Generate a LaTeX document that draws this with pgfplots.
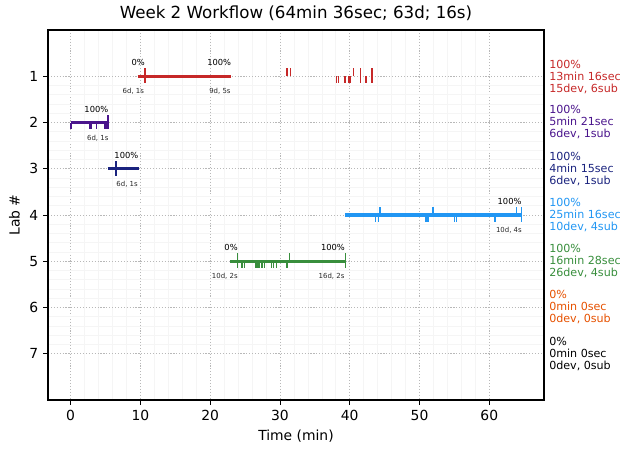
\documentclass[border=0pt]{standalone}
\usepackage{pgfplots}
\pgfplotsset{compat=1.18}
\usepackage{fontspec}
\setmainfont{DejaVu Sans}
\definecolor{labA}{HTML}{C62828}
\definecolor{labB}{HTML}{4A148C}
\definecolor{labC}{HTML}{1A237E}
\definecolor{labD}{HTML}{2196F3}
\definecolor{labE}{HTML}{388E3C}
\definecolor{labF}{HTML}{E65100}
\definecolor{labG}{HTML}{000000}
\begin{document}
\begin{tikzpicture}[x=1pt,y=1pt]
\useasboundingbox (0,0) rectangle (453.6,326.16);
\begin{axis}[
  at={(34.56pt,38.16pt)}, anchor=south west,
  scale only axis, width=357.1pt, height=266.4pt,
  xmin=-3.23, xmax=67.83, ymin=0, ymax=8, y dir=reverse,
  xtick={0,10,...,60}, ytick={1,...,7},
  minor x tick num=4, minor y tick num=4,
  grid=both,
  major grid style={dash pattern=on 0.8pt off 1.3pt, black!28, line width=0.6pt},
  minor grid style={black!4, line width=0.4pt},
  tick align=outside, major tick length=3.5pt, minor tick length=0pt,
  tick style={black, line width=0.6pt},
  axis line style={line width=0.8pt},
  xtick pos=bottom, ytick pos=left,
  title={Week 2 Workflow (64min 36sec; 63d; 16s)},
  title style={font=\fontsize{12}{14}\selectfont, yshift=-3pt},
  xlabel={Time (min)}, ylabel={Lab \#},
  label style={font=\fontsize{10}{12}\selectfont},
  ticklabel style={font=\fontsize{10}{12}\selectfont},
  /pgf/number format/assume math mode=true,
  clip=false,
]
% --- duration bars ---
\addplot[labA, line width=2.2pt] coordinates {(9.6,1) (23.0,1)};
\addplot[labB, line width=2.2pt] coordinates {(0.0,2) (5.4,2)};
\addplot[labC, line width=2.2pt] coordinates {(5.3,3) (9.8,3)};
\addplot[labD, line width=2.2pt] coordinates {(39.3,4) (64.6,4)};
\addplot[labE, line width=2.2pt] coordinates {(22.9,5) (39.3,5)};
% --- event ticks (v<0 above, v>0 below) ---
\addplot[labA, line width=1.1pt, quiver={u=0,v=\thisrow{v}}, mark=none] table {
x y v
10.7 1 -0.17
10.7 1 0.15
31.05 1 -0.17
31.5 1 -0.17
38.1 1 0.15
38.4 1 0.15
39.3 1 0.15
39.86 1 0.15
40.14 1 0.15
40.57 1 -0.17
41.57 1 -0.17
41.57 1 0.15
42.3 1 0.15
43.2 1 -0.17
43.2 1 0.15
};
\addplot[labB, line width=1.1pt, quiver={u=0,v=\thisrow{v}}, mark=none] table {
x y v
0.05 2 0.15
2.76 2 0.15
3.0 2 0.15
3.7 2 0.15
4.95 2 0.15
5.15 2 0.15
5.4 2 -0.17
5.4 2 0.15
};
\addplot[labC, line width=1.1pt, quiver={u=0,v=\thisrow{v}}, mark=none] table {
x y v
6.5 3 -0.17
6.5 3 0.15
};
\addplot[labD, line width=1.1pt, quiver={u=0,v=\thisrow{v}}, mark=none] table {
x y v
43.7 4 0.15
44.1 4 0.15
44.3 4 -0.17
50.95 4 0.15
51.2 4 0.15
51.9 4 -0.17
55.0 4 0.15
55.3 4 0.15
60.8 4 0.15
63.9 4 -0.17
64.6 4 -0.17
64.6 4 0.15
};
\addplot[labE, line width=1.1pt, quiver={u=0,v=\thisrow{v}}, mark=none] table {
x y v
23.9 5 -0.17
23.9 5 0.15
24.6 5 0.15
24.95 5 0.15
26.6 5 0.15
26.8 5 0.15
27.0 5 0.15
27.4 5 0.15
27.8 5 0.15
28.8 5 0.15
29.1 5 0.15
29.5 5 0.15
31.0 5 0.15
31.4 5 -0.17
39.4 5 -0.17
39.4 5 0.15
};
% --- annotations ---
\tikzset{pct/.style={font=\fontsize{6}{7}\selectfont, black, inner sep=0pt},
         cnt/.style={font=\fontsize{5}{6}\selectfont, black!85, inner sep=0pt}}
\node[pct] at (axis cs:9.7,0.71) {0\%};
\node[pct] at (axis cs:21.3,0.71) {100\%};
\node[cnt] at (axis cs:9.0,1.33) {6d, 1s};
\node[cnt] at (axis cs:21.4,1.33) {9d, 5s};
\node[pct] at (axis cs:3.7,1.71) {100\%};
\node[cnt] at (axis cs:3.9,2.33) {6d, 1s};
\node[pct] at (axis cs:8.0,2.71) {100\%};
\node[cnt] at (axis cs:8.1,3.33) {6d, 1s};
\node[pct] at (axis cs:62.9,3.71) {100\%};
\node[cnt] at (axis cs:62.8,4.33) {10d, 4s};
\node[pct] at (axis cs:23.0,4.71) {0\%};
\node[cnt] at (axis cs:22.1,5.33) {10d, 2s};
\node[pct] at (axis cs:37.6,4.71) {100\%};
\node[cnt] at (axis cs:37.4,5.33) {16d, 2s};
% --- right-side summaries ---
\tikzset{summ/.style={font=\fontsize{8}{8.64}\selectfont, anchor=west, align=left, inner sep=0pt, xshift=3.6pt}}
\node[summ, labA] at (rel axis cs:1,0.8725) {100\%\\13min 16sec\\15dev, 6sub};
\node[summ, labB] at (rel axis cs:1,0.75) {100\%\\5min 21sec\\6dev, 1sub};
\node[summ, labC] at (rel axis cs:1,0.625) {100\%\\4min 15sec\\6dev, 1sub};
\node[summ, labD] at (rel axis cs:1,0.5) {100\%\\25min 16sec\\10dev, 4sub};
\node[summ, labE] at (rel axis cs:1,0.375) {100\%\\16min 28sec\\26dev, 4sub};
\node[summ, labF] at (rel axis cs:1,0.25) {0\%\\0min 0sec\\0dev, 0sub};
\node[summ, labG] at (rel axis cs:1,0.125) {0\%\\0min 0sec\\0dev, 0sub};
\end{axis}
\end{tikzpicture}
\end{document}
